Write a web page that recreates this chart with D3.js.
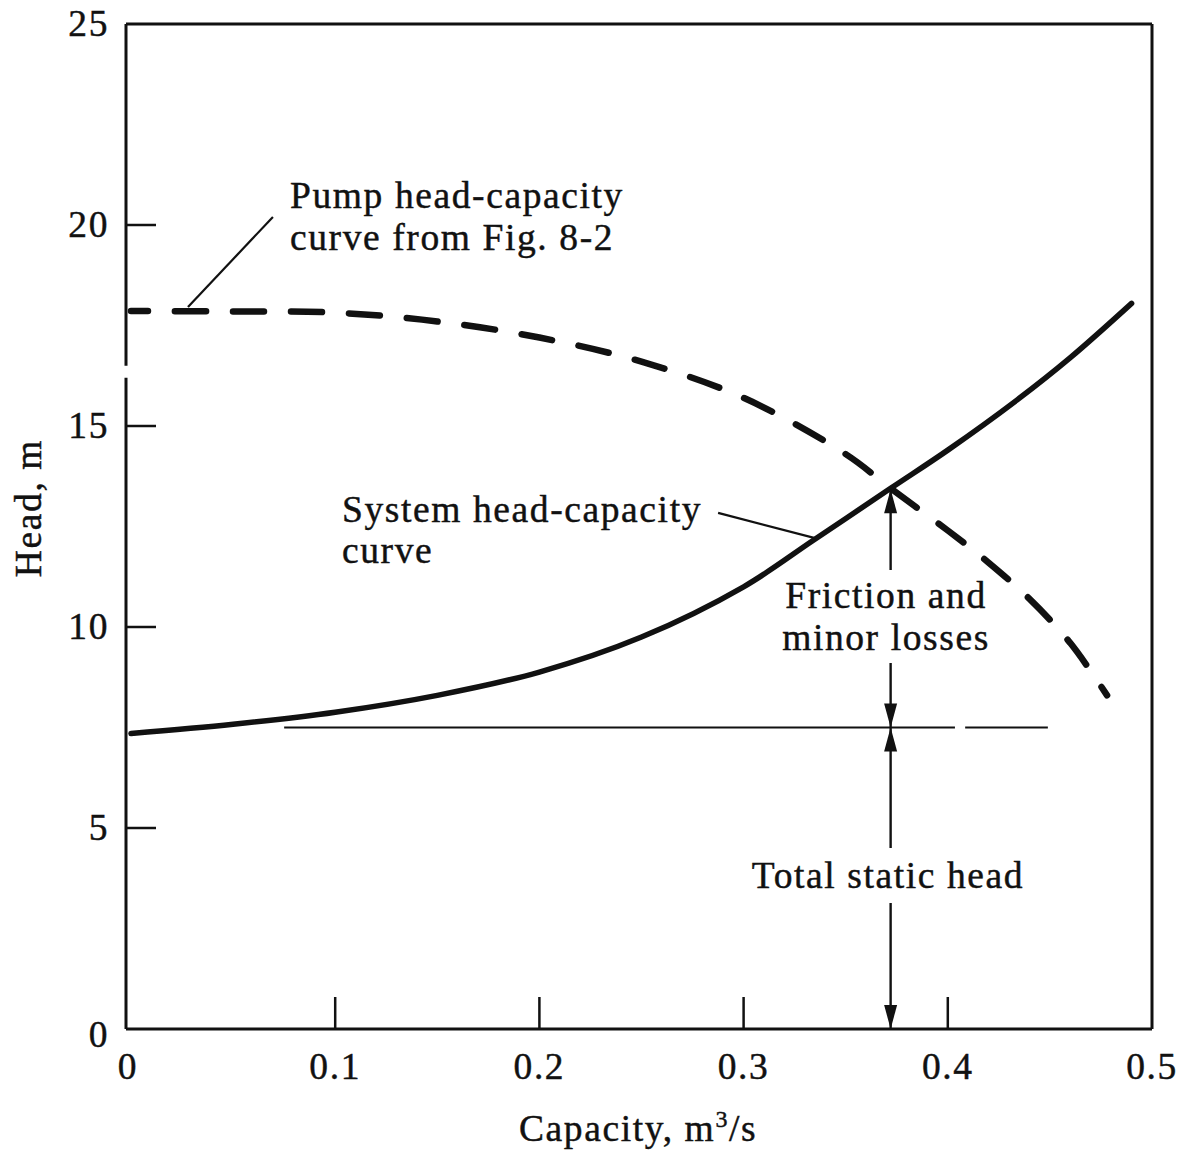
<!DOCTYPE html>
<html>
<head>
<meta charset="utf-8">
<script src="https://cdn.jsdelivr.net/npm/d3@7"></script>
<style>
  html, body { margin: 0; padding: 0; background: #fff; }
  svg { display: block; }
  text { font-family: "Liberation Serif", "Times New Roman", serif; fill: #111; stroke: #111; stroke-width: 0.45; }
</style>
</head>
<body>
<svg id="chart" width="1177" height="1152"></svg>
<script>
// ---- Data (capacity in m^3/s, head in m) ----
const pumpQ = [0, 0.05, 0.1, 0.15, 0.2, 0.25, 0.3, 0.35, 0.372, 0.4, 0.42, 0.44, 0.46, 0.478];
const pumpH = [17.86, 17.85, 17.82, 17.6, 17.2, 16.6, 15.7, 14.3, 13.45, 12.4, 11.6, 10.7, 9.6, 8.3];

const systemQ = [0, 0.05, 0.1, 0.15, 0.2, 0.25, 0.3, 0.334, 0.372, 0.4, 0.434, 0.46, 0.49];
const systemH = [7.35, 7.58, 7.88, 8.3, 8.88, 9.75, 11.0, 12.15, 13.45, 14.4, 15.65, 16.7, 18.05];

const staticHead = 7.5;
const staticLineQ = [[0.075, 0.4035], [0.4085, 0.449]];
const operatingQ = 0.372;
const operatingH = 13.45;

const xTicks = [0, 0.1, 0.2, 0.3, 0.4, 0.5];
const xTickLabels = ["0", "0.1", "0.2", "0.3", "0.4", "0.5"];
const yTicks = [0, 5, 10, 15, 20, 25];
const yTickLabels = ["0", "5", "10", "15", "20", "25"];

// annotation texts
const pumpLabel = ["Pump head-capacity", "curve from Fig. 8-2"];
const systemLabel = ["System head-capacity", "curve"];
const frictionLabel = ["Friction and", "minor losses"];
const staticLabel = ["Total static head"];

// ---- Layout ----
const svg = d3.select("#chart");
const x = d3.scaleLinear().domain([0, 0.5]).range([131, 1152]);
const y = d3.scaleLinear().domain([0, 25]).range([1029, 24]);
const frameLeft = 126;
const FS = 37.5, LS = 1.6;

// frame
const frame = svg.append("g").attr("stroke", "#111").attr("fill", "none").attr("stroke-width", 3);
frame.append("line").attr("x1", frameLeft).attr("x2", x(0.5)).attr("y1", y(25)).attr("y2", y(25));
frame.append("line").attr("x1", frameLeft).attr("x2", x(0.5)).attr("y1", y(0)).attr("y2", y(0));
frame.append("line").attr("x1", x(0.5)).attr("x2", x(0.5)).attr("y1", y(25)).attr("y2", y(0));
frame.append("line").attr("x1", frameLeft).attr("x2", frameLeft).attr("y1", y(25)).attr("y2", y(16.5));
frame.append("line").attr("x1", frameLeft).attr("x2", frameLeft).attr("y1", y(16.2)).attr("y2", y(0));

// ticks
const ticks = svg.append("g").attr("stroke", "#111").attr("stroke-width", 2.5);
ticks.selectAll("line.yt").data(yTicks.filter(d => d > 0 && d < 25)).join("line")
  .attr("x1", frameLeft).attr("x2", frameLeft + 30)
  .attr("y1", d => y(d)).attr("y2", d => y(d));
ticks.selectAll("line.xt").data(xTicks.filter(d => d > 0 && d < 0.5)).join("line")
  .attr("x1", d => x(d)).attr("x2", d => x(d))
  .attr("y1", y(0)).attr("y2", y(0) - 32);

// tick labels
svg.append("g").selectAll("text").data(xTicks).join("text")
  .attr("x", (d, i) => x(d) + (i === 0 ? -3 : 0)).attr("y", 1079)
  .attr("text-anchor", "middle").attr("font-size", FS).attr("letter-spacing", LS)
  .text((d, i) => xTickLabels[i]);
svg.append("g").selectAll("text").data(yTicks).join("text")
  .attr("x", 109).attr("y", d => y(d) + 12 + (d === 0 ? 6 : 0))
  .attr("text-anchor", "end").attr("font-size", FS).attr("letter-spacing", LS)
  .text((d, i) => yTickLabels[i]);

// axis titles
svg.append("text").attr("transform", "translate(41,508) rotate(-90)")
  .attr("text-anchor", "middle").attr("font-size", FS).attr("letter-spacing", LS)
  .text("Head, m");
const xt = svg.append("text").attr("x", 519).attr("y", 1141)
  .attr("font-size", FS).attr("letter-spacing", LS);
xt.append("tspan").text("Capacity, m");
xt.append("tspan").attr("font-size", 24).attr("dy", -14).text("3");
xt.append("tspan").attr("dy", 14).text("/s");

// curves
const line = d3.line().x(d => x(d[0])).y(d => y(d[1])).curve(d3.curveCatmullRom.alpha(0.5));
svg.append("path")
  .datum(pumpQ.map((q, i) => [q, pumpH[i]]))
  .attr("d", line).attr("fill", "none").attr("stroke", "#111")
  .attr("stroke-width", 6.5).attr("stroke-linecap", "round")
  .attr("stroke-dasharray", "31,27").attr("stroke-dashoffset", 14);
svg.append("path")
  .datum(systemQ.map((q, i) => [q, systemH[i]]))
  .attr("d", line).attr("fill", "none").attr("stroke", "#111")
  .attr("stroke-width", 5.5).attr("stroke-linecap", "round");

// static head line
svg.append("g").selectAll("line").data(staticLineQ).join("line")
  .attr("x1", d => x(d[0])).attr("x2", d => x(d[1]))
  .attr("y1", y(staticHead)).attr("y2", y(staticHead))
  .attr("stroke", "#111").attr("stroke-width", 2.2);

// leader lines
const leaders = [
  [[0.0279, 17.96], [0.0695, 20.2]],
  [[0.2875, 12.84], [0.335, 12.21]]
];
svg.append("g").selectAll("line").data(leaders).join("line")
  .attr("x1", d => x(d[0][0])).attr("y1", d => y(d[0][1]))
  .attr("x2", d => x(d[1][0])).attr("y2", d => y(d[1][1]))
  .attr("stroke", "#111").attr("stroke-width", 2.2);

// dimension arrows at operating point
const ax = x(operatingQ);
const arrows = svg.append("g");
function arrow(y1, y2) { // line from y1 to tip y2
  arrows.append("line").attr("x1", ax).attr("x2", ax).attr("y1", y1).attr("y2", y2)
    .attr("stroke", "#111").attr("stroke-width", 2.4);
  const dir = y2 > y1 ? 1 : -1;
  arrows.append("path")
    .attr("d", `M${ax},${y2} L${ax - 6.5},${y2 - dir * 24} L${ax + 6.5},${y2 - dir * 24} Z`)
    .attr("fill", "#111");
}
arrow(570, y(operatingH) + 1);
arrow(663, y(staticHead));
arrow(848, y(staticHead));
arrow(903, y(0));

// annotation text
function label(lines, px, py, lh, anchor) {
  const t = svg.append("text").attr("font-size", FS).attr("letter-spacing", LS)
    .attr("text-anchor", anchor || "start");
  lines.forEach((s, i) => t.append("tspan").attr("x", px).attr("y", py + i * lh).text(s));
}
label(pumpLabel, 290, 208, 42);
label(systemLabel, 342, 522, 41);
label(frictionLabel, 886, 608, 42, "middle");
label(staticLabel, 888, 888, 42, "middle");
</script>
</body>
</html>
